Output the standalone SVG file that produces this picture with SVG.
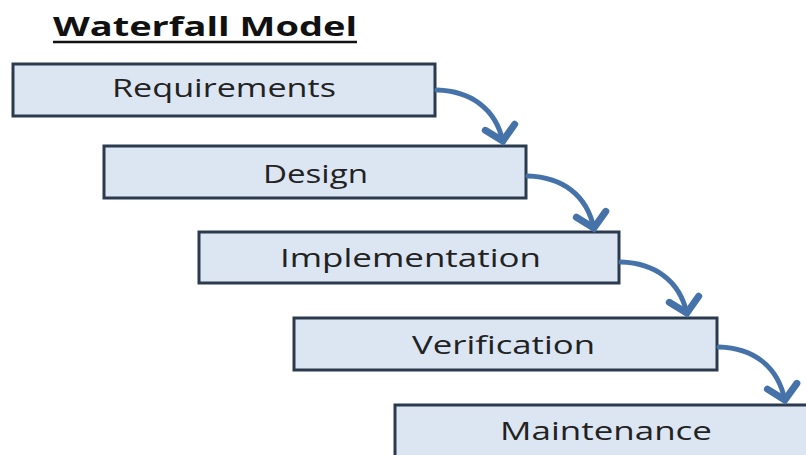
<svg xmlns="http://www.w3.org/2000/svg" width="806" height="455" viewBox="0 0 806 455">
<defs>
<style>
.box{fill:#dce6f2;stroke:#2b3a4f;stroke-width:3}
.lbl{font-family:"Open Sans","Liberation Sans",sans-serif;font-size:26px;fill:#222}
.arr{fill:none;stroke:#4672aa;stroke-width:5;stroke-linecap:round}
</style>
<marker id="chev" markerUnits="userSpaceOnUse" markerWidth="40" markerHeight="40" refX="2" refY="0" viewBox="-20 -20 40 40" orient="auto" overflow="visible">
<path d="M-13,-15 L1,0 L-13,15" fill="none" stroke="#4672aa" stroke-width="7" stroke-linecap="round" stroke-linejoin="miter"/>
</marker>
</defs>
<rect width="806" height="455" fill="#ffffff"/>
<g id="title">
<text x="53" y="36" font-family="'Open Sans','Liberation Sans',sans-serif" font-weight="bold" font-size="27" fill="#111" textLength="304" lengthAdjust="spacingAndGlyphs">Waterfall Model</text>
<line x1="53" y1="42" x2="357" y2="42" stroke="#111" stroke-width="2.5"/>
</g>
<g id="n1"><rect class="box" x="13" y="64" width="422" height="52"/><text class="lbl" x="112" y="97" textLength="224" lengthAdjust="spacingAndGlyphs">Requirements</text></g>
<g id="n2"><rect class="box" x="104" y="146" width="422" height="52"/><text class="lbl" x="263" y="183" textLength="105" lengthAdjust="spacingAndGlyphs">Design</text></g>
<g id="n3"><rect class="box" x="199" y="232" width="420" height="51"/><text class="lbl" x="280" y="267" textLength="261" lengthAdjust="spacingAndGlyphs">Implementation</text></g>
<g id="n4"><rect class="box" x="294" y="318" width="423" height="52"/><text class="lbl" x="412" y="354" textLength="183" lengthAdjust="spacingAndGlyphs">Verification</text></g>
<g id="n5"><rect class="box" x="395" y="405" width="430" height="60"/><text class="lbl" x="500" y="440" textLength="212" lengthAdjust="spacingAndGlyphs">Maintenance</text></g>
<g id="connectors">
<path class="arr" marker-end="url(#chev)" d="M437,90 C470,91 496,108 503,142"/>
<path class="arr" marker-end="url(#chev)" d="M528,176 C561,177 587,194 594,229"/>
<path class="arr" marker-end="url(#chev)" d="M621,262 C654,263 680,280 687,314"/>
<path class="arr" marker-end="url(#chev)" d="M719,347 C752,348 778,365 785,401"/>
</g>
</svg>
